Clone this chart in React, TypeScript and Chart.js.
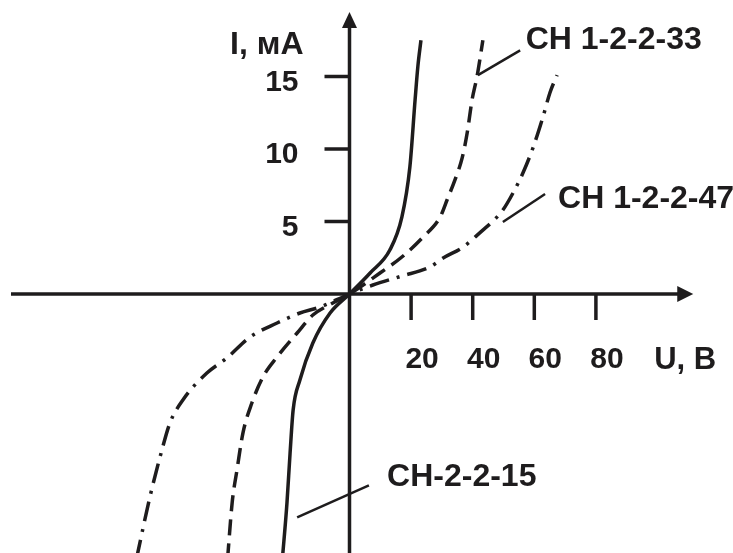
import React, { useEffect, useRef } from "react";
import { Chart, registerables } from "chart.js";

Chart.register(...registerables);

// ---- Axis ticks and titles ----
const xTickValues = [20, 40, 60, 80];
const xTickLabels = ["20", "40", "60", "80"];
const yTickValues = [5, 10, 15];
const yTickLabels = ["5", "10", "15"];
const xAxisTitle = "U, В";
const yAxisTitle = "I, мА";

// ---- Series names ----
const seriesNames = ["СН-2-2-15", "СН 1-2-2-33", "СН 1-2-2-47"];

// ---- СН-2-2-15 (solid) ----
const u15 = [-21.8, -20.3, -19.3, -18.3, -16.1, -11.9, -6.3, 0, 6.7, 13.1, 17.0, 19.6, 21.3, 22.2, 23.2];
const i15 = [-18.3, -14.4, -11.0, -8.0, -5.93, -3.38, -1.31, 0, 1.45, 3.03, 5.3, 8.76, 13.4, 15.7, 17.5];

// ---- СН 1-2-2-33 (dashed) ----
const u33 = [-39.6, -38.1, -36.5, -34.6, -31.7, -28.1, -23.5, -17.0, -11.9, -5.4, 0, 9.9, 17.0, 23.9, 29.4, 31.7, 34.3, 36.6, 38.2, 39.8, 41.4, 43.3];
const i33 = [-18.3, -14.4, -12.1, -9.59, -7.52, -5.72, -4.34, -2.69, -1.45, -0.62, 0, 1.45, 2.55, 3.93, 5.3, 6.5, 7.9, 9.4, 11.1, 13.4, 15.0, 17.5];

// ---- СН 1-2-2-47 (dash-dot) ----
const u47 = [-69.2, -64.8, -60.9, -58.3, -54.1, -46.3, -39.8, -32.3, -23.5, -16.1, -9.6, 0, 7.6, 17.0, 26.1, 30.4, 36.9, 43.3, 46.3, 49.8, 53.1, 56.3, 59.6, 62.8, 65.1, 67.4];
const i47 = [-18.3, -14.0, -10.76, -8.9, -7.31, -5.45, -4.41, -2.97, -2.0, -1.31, -0.9, 0, 0.62, 1.24, 1.86, 2.48, 3.24, 4.41, 4.97, 5.79, 6.97, 8.34, 10.1, 12.2, 13.9, 15.1];

// ---- Scale ranges (data units) ----
const X_MIN = -113.47;
const X_MAX = 124.51;
const Y_MIN = -17.862;
const Y_MAX = 20.276;
const X_AXIS_FROM = -109.9;
const X_AXIS_TO = 111.6;
const Y_AXIS_TO = 19.45;

// ---- Callouts: label anchor and leader line, in data units ----
const calloutLabels = ["СН 1-2-2-33", "СН 1-2-2-47", "СН-2-2-15"];
const calloutTextAt = [[57.2, 17.5], [67.7, 6.55], [12.2, -12.6]];
const calloutLineFrom = [[41.7, 15.1], [49.8, 4.97], [-17.0, -15.4]];
const calloutLineTo = [[55.4, 16.8], [63.5, 6.9], [6.3, -13.2]];

const INK = "#1e1c1d";
const FAMILY = "'Liberation Sans', Arial, sans-serif";
const TICK_FONT = `bold 30px ${FAMILY}`;
const XTITLE_FONT = `bold 31px ${FAMILY}`;
const BIG_FONT = `bold 32px ${FAMILY}`;

const toPoints = (u: number[], i: number[]) => u.map((x, k) => ({ x, y: i[k] }));

const axesPlugin = {
  id: "crossAxes",
  beforeDatasetsDraw(chart: any) {
    const { ctx, scales } = chart;
    const xs = scales.x;
    const ys = scales.y;
    const ox = xs.getPixelForValue(0);
    const oy = ys.getPixelForValue(0);
    ctx.save();
    ctx.strokeStyle = INK;
    ctx.fillStyle = INK;
    ctx.lineWidth = 3.5;
    ctx.setLineDash([]);
    // x axis
    const xr = xs.getPixelForValue(X_AXIS_TO);
    ctx.beginPath();
    ctx.moveTo(xs.getPixelForValue(X_AXIS_FROM), oy);
    ctx.lineTo(xr - 10, oy);
    ctx.stroke();
    ctx.beginPath();
    ctx.moveTo(xr, oy);
    ctx.lineTo(xr - 16, oy - 8);
    ctx.lineTo(xr - 16, oy + 8);
    ctx.closePath();
    ctx.fill();
    // y axis
    const yt = ys.getPixelForValue(Y_AXIS_TO);
    ctx.beginPath();
    ctx.moveTo(ox, chart.chartArea.bottom + 2);
    ctx.lineTo(ox, yt + 10);
    ctx.stroke();
    ctx.beginPath();
    ctx.moveTo(ox, yt);
    ctx.lineTo(ox - 7.5, yt + 16);
    ctx.lineTo(ox + 7.5, yt + 16);
    ctx.closePath();
    ctx.fill();
    // tick marks
    xTickValues.forEach((v) => {
      const px = xs.getPixelForValue(v);
      ctx.beginPath();
      ctx.moveTo(px, oy);
      ctx.lineTo(px, oy + 26);
      ctx.stroke();
    });
    yTickValues.forEach((v) => {
      const py = ys.getPixelForValue(v);
      ctx.beginPath();
      ctx.moveTo(ox, py);
      ctx.lineTo(ox - 25, py);
      ctx.stroke();
    });
    ctx.restore();
  },
  afterDatasetsDraw(chart: any) {
    const { ctx, scales } = chart;
    const xs = scales.x;
    const ys = scales.y;
    const ox = xs.getPixelForValue(0);
    const oy = ys.getPixelForValue(0);
    ctx.save();
    ctx.fillStyle = INK;
    ctx.strokeStyle = INK;
    ctx.textBaseline = "middle";
    // x tick labels
    ctx.font = TICK_FONT;
    ctx.textAlign = "center";
    xTickValues.forEach((v, k) => {
      ctx.fillText(xTickLabels[k], xs.getPixelForValue(v) + 11, oy + 66);
    });
    ctx.font = XTITLE_FONT;
    ctx.fillText(xAxisTitle, xs.getPixelForValue(X_AXIS_TO) - 8, oy + 66);
    // y tick labels
    ctx.font = TICK_FONT;
    ctx.textAlign = "right";
    yTickValues.forEach((v, k) => {
      ctx.fillText(yTickLabels[k], ox - 51, ys.getPixelForValue(v) + 6);
    });
    ctx.font = BIG_FONT;
    ctx.fillText(yAxisTitle, ox - 46, ys.getPixelForValue(Y_AXIS_TO) + 33);
    // callouts
    ctx.lineWidth = 2.5;
    ctx.setLineDash([]);
    ctx.textAlign = "left";
    calloutLabels.forEach((label, k) => {
      ctx.beginPath();
      ctx.moveTo(xs.getPixelForValue(calloutLineFrom[k][0]), ys.getPixelForValue(calloutLineFrom[k][1]));
      ctx.lineTo(xs.getPixelForValue(calloutLineTo[k][0]), ys.getPixelForValue(calloutLineTo[k][1]));
      ctx.stroke();
      ctx.fillText(label, xs.getPixelForValue(calloutTextAt[k][0]), ys.getPixelForValue(calloutTextAt[k][1]));
    });
    ctx.restore();
  },
};

export default function App() {
  const canvasRef = useRef<HTMLCanvasElement | null>(null);

  useEffect(() => {
    const canvas = canvasRef.current;
    if (!canvas) return;
    const common = {
      borderColor: INK,
      borderWidth: 3.5,
      pointRadius: 0,
      fill: false,
      cubicInterpolationMode: "monotone" as const,
      borderCapStyle: "butt" as const,
    };
    const chart = new Chart(canvas, {
      type: "line",
      data: {
        datasets: [
          { ...common, label: seriesNames[0], data: toPoints(u15, i15), borderDash: [] },
          { ...common, label: seriesNames[1], data: toPoints(u33, i33), borderDash: [16, 8] },
          { ...common, label: seriesNames[2], data: toPoints(u47, i47), borderDash: [20, 8, 3, 8] },
        ],
      },
      options: {
        responsive: false,
        animation: false,
        devicePixelRatio: 1,
        layout: { padding: 0 },
        plugins: {
          legend: { display: false },
          title: { display: false },
          tooltip: { enabled: false },
        },
        events: [],
        scales: {
          x: { type: "linear", min: X_MIN, max: X_MAX, display: false },
          y: { type: "linear", min: Y_MIN, max: Y_MAX, display: false },
        },
      },
      plugins: [axesPlugin],
    });
    return () => chart.destroy();
  }, []);

  return (
    <div style={{ position: "absolute", left: 0, top: 0, width: 733, height: 553, background: "#fff" }}>
      <canvas ref={canvasRef} width={733} height={553} style={{ width: 733, height: 553, display: "block" }} />
    </div>
  );
}
